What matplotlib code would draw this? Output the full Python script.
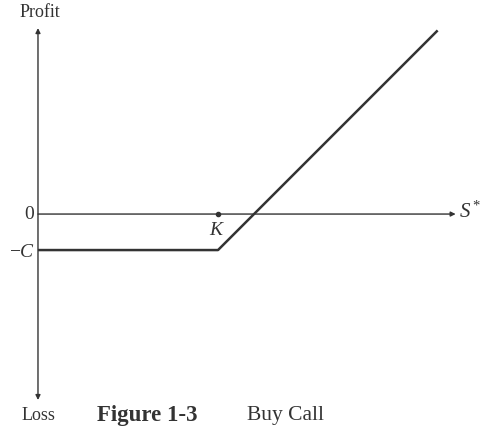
import matplotlib
matplotlib.use("Agg")
import matplotlib.pyplot as plt

# Payoff data (buy call)
strike_K = 100.0
premium_C = 20.0
s_points = [0.0, strike_K, 222.0]
profit = [max(s - strike_K, 0.0) - premium_C for s in s_points]

axis_x_max = 232.0
axis_y_half = 103.3

plt.rcParams['font.family'] = ['Liberation Serif', 'DejaVu Serif']
plt.rcParams['mathtext.fontset'] = 'custom'
plt.rcParams['mathtext.rm'] = 'Liberation Serif'
plt.rcParams['mathtext.it'] = 'Liberation Serif:italic'

fig = plt.figure(figsize=(4.94, 4.29), dpi=100)
ax = fig.add_axes([0, 0, 1, 1])
ax.set_xlim(-21.1, 253.3)
ax.set_ylim(-119.4, 118.9)
ax.axis('off')

col = '#333333'
# axes with arrows
ax.annotate('', xy=(0, axis_y_half), xytext=(0, -axis_y_half),
            arrowprops=dict(arrowstyle='<|-|>', color=col, lw=1.0,
                            mutation_scale=7, shrinkA=0, shrinkB=0))
ax.annotate('', xy=(axis_x_max, 0), xytext=(0, 0),
            arrowprops=dict(arrowstyle='-|>', color=col, lw=1.0,
                            mutation_scale=7, shrinkA=0, shrinkB=0))

# payoff line
ax.plot(s_points, profit, color=col, lw=1.8, solid_capstyle='butt')
ax.plot([strike_K], [0], 'o', color=col, ms=3)

# labels
ax.text(1.1, 111.7, 'Profit', ha='center', va='center', fontsize=13, color=col)
ax.text(0.5, -111.7, 'Loss', ha='center', va='center', fontsize=13, color=col)
ax.text(-2.2, -0.5, '0', ha='right', va='center', fontsize=14, color=col)
ax.text(-1.7, -21.2, '$-C$', ha='right', va='center', fontsize=14, color=col)
ax.text(strike_K - 0.5, -9.4, '$K$', ha='center', va='center', fontsize=14, color=col)
ax.text(234, 1, r'$S^*$', ha='left', va='center', fontsize=15, color=col)
ax.text(32.8, -111.7, 'Figure 1-3', ha='left', va='center', fontsize=16.5,
        fontweight='bold', color=col)
ax.text(116, -111.7, 'Buy Call', ha='left', va='center', fontsize=15.5, color=col)

fig.savefig('out.png', dpi=100)
